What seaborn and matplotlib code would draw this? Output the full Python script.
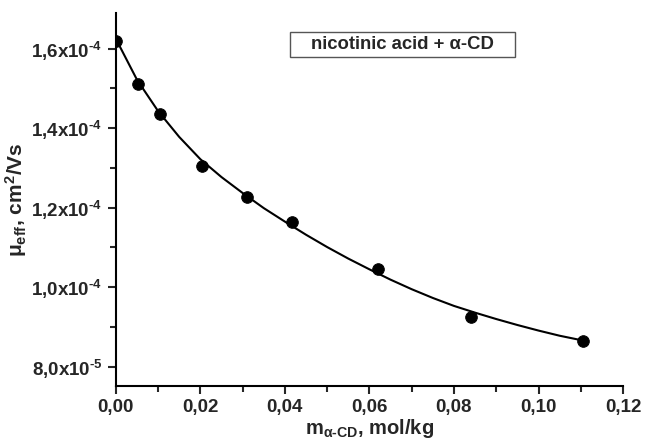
import matplotlib
matplotlib.use("Agg")
import matplotlib.pyplot as plt
import matplotlib.ticker as mticker
from matplotlib.patches import Rectangle
import pandas as pd
import seaborn as sns

# measured points (mol/kg, cm2/Vs)
m_cd = [0.0, 0.0052, 0.0104, 0.0204, 0.031, 0.0416, 0.062, 0.084, 0.1105]
mu_eff = [1.62e-4, 1.512e-4, 1.435e-4, 1.305e-4, 1.228e-4, 1.165e-4, 1.046e-4, 0.924e-4, 0.866e-4]

# fitted curve
fit_x = [0.0, 0.005, 0.010, 0.015, 0.020, 0.025, 0.030, 0.035, 0.040, 0.045, 0.050,
         0.055, 0.060, 0.065, 0.070, 0.075, 0.080, 0.085, 0.090, 0.095, 0.100, 0.105, 0.1105]
fit_y = [1.625e-4, 1.522e-4, 1.443e-4, 1.378e-4, 1.322e-4, 1.277e-4, 1.237e-4, 1.199e-4,
         1.165e-4, 1.132e-4, 1.101e-4, 1.072e-4, 1.045e-4, 1.019e-4, 0.995e-4, 0.973e-4,
         0.953e-4, 0.936e-4, 0.920e-4, 0.905e-4, 0.891e-4, 0.878e-4, 0.866e-4]

points = pd.DataFrame({"m": m_cd, "mu": mu_eff})
curve = pd.DataFrame({"m": fit_x, "mu": fit_y})

sns.set_style("ticks")
plt.rcParams["font.family"] = ["Liberation Sans", "DejaVu Sans"]
plt.rcParams["font.weight"] = "bold"
plt.rcParams["axes.unicode_minus"] = False
plt.rcParams["mathtext.fontset"] = "custom"
plt.rcParams["mathtext.rm"] = "Liberation Sans:bold"
plt.rcParams["mathtext.it"] = "Liberation Sans:bold"
plt.rcParams["mathtext.bf"] = "Liberation Sans:bold"
plt.rcParams["mathtext.default"] = "rm"

fig = plt.figure(figsize=(6.47, 4.44), dpi=100)
ax = fig.add_axes([0.179, 0.131, 0.784, 0.840])

sns.lineplot(ax=ax, data=curve, x="m", y="mu", color="black", linewidth=1.5)
sns.scatterplot(ax=ax, data=points, x="m", y="mu", color="black", s=70,
                edgecolor="black", zorder=3)

ax.set_xlim(0, 0.12)
ax.set_ylim(7.52e-5, 1.69e-4)

ax.xaxis.set_major_locator(mticker.MultipleLocator(0.02))
ax.xaxis.set_minor_locator(mticker.MultipleLocator(0.01))
ax.yaxis.set_major_locator(mticker.MultipleLocator(2e-5))
ax.yaxis.set_minor_locator(mticker.MultipleLocator(1e-5))


def xfmt(v, pos):
    return f"{v:.2f}".replace(".", ",")


def yfmt(v, pos):
    if v <= 0:
        return ""
    exp = 0
    mant = v
    while mant < 1:
        mant *= 10
        exp -= 1
    return f"{mant:.1f}".replace(".", ",") + r"x10$^{\text{" + str(exp) + "}}$"


ax.xaxis.set_major_formatter(mticker.FuncFormatter(xfmt))
ax.yaxis.set_major_formatter(mticker.FuncFormatter(yfmt))

ax.tick_params(which="major", direction="out", length=6, width=1.5, labelsize=13.5)
ax.tick_params(which="minor", direction="out", length=4, width=1.5)
for lab in ax.get_xticklabels() + ax.get_yticklabels():
    lab.set_fontweight("bold")

sns.despine(ax=ax)
for side in ["left", "bottom"]:
    ax.spines[side].set_linewidth(1.5)
    ax.spines[side].set_color("black")

ax.set_xlabel(r"m$_{\alpha\text{-CD}}$, mol/kg", fontsize=14.5, fontweight="bold", labelpad=1)
ax.set_ylabel(r"$\mu_{\text{eff}}$, cm$^{2}$/Vs", fontsize=15, fontweight="bold", labelpad=2)

ax.add_patch(Rectangle((0.343, 0.882), 0.444, 0.067, transform=ax.transAxes,
                       facecolor="white", edgecolor="#555555", linewidth=1.0, zorder=4))
ax.text(0.565, 0.914, "nicotinic acid + α-CD", transform=ax.transAxes,
        ha="center", va="center", fontsize=13.3, fontweight="bold", zorder=5)

fig.savefig("out.png", dpi=100)
